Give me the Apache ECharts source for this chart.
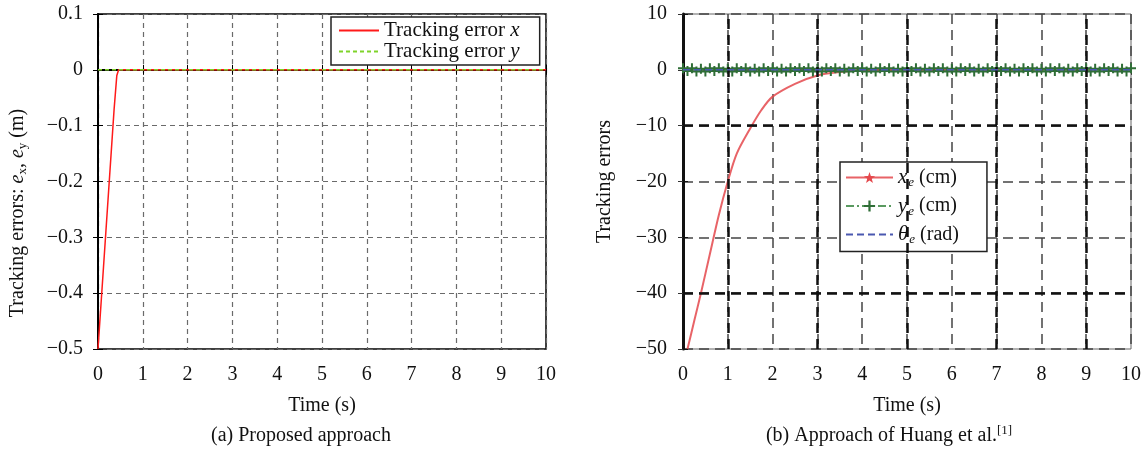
<!DOCTYPE html>
<html>
<head>
<meta charset="utf-8">
<script src="https://cdn.jsdelivr.net/npm/echarts@6/dist/echarts.min.js"></script>
<style>
html,body{margin:0;padding:0;background:#fff;}
#c{width:1147px;height:455px;}
</style>
</head>
<body>
<div id="c"></div>
<script>
// ---- data: chart (a) ----
const timeA = [0, 0.36, 0.42, 0.46, 10];
const errXA = [-0.5, -0.07, -0.01, 0, 0];
const timeAy = [0, 10];
const errYA = [0, 0];
const yTicksA = [0.1, 0, -0.1, -0.2, -0.3, -0.4, -0.5];

// ---- data: chart (b) ----
const timeBx = [0.1, 0.25, 0.4, 0.6, 0.8, 1.0, 1.2, 1.5, 1.75, 2.0, 2.5, 3.0, 3.5, 4.0, 5.0, 10];
const errXB = [-50, -45, -40, -33, -26, -20, -15, -10.5, -7.2, -4.8, -2.5, -1.0, -0.4, -0.1, 0, 0];
const timeBy = [0,0.1,0.2,0.3,0.4,0.5,0.6,0.7,0.8,0.9,1,1.1,1.2,1.3,1.4,1.5,1.6,1.7,1.8,1.9,2,2.1,2.2,2.3,2.4,2.5,2.6,2.7,2.8,2.9,3,3.1,3.2,3.3,3.4,3.5,3.6,3.7,3.8,3.9,4,4.1,4.2,4.3,4.4,4.5,4.6,4.7,4.8,4.9,5,5.1,5.2,5.3,5.4,5.5,5.6,5.7,5.8,5.9,6,6.1,6.2,6.3,6.4,6.5,6.6,6.7,6.8,6.9,7,7.1,7.2,7.3,7.4,7.5,7.6,7.7,7.8,7.9,8,8.1,8.2,8.3,8.4,8.5,8.6,8.7,8.8,8.9,9,9.1,9.2,9.3,9.4,9.5,9.6,9.7,9.8,9.9,10];
const errYB = [0.3,-0.2,0.3,-0.3,0.2,-0.3,0.3,-0.2,0.3,-0.3,0.2,-0.3,0.3,-0.2,0.3,-0.3,0.2,-0.3,0.3,-0.2,0.3,-0.3,0.2,-0.3,0.3,-0.2,0.3,-0.2,0.3,-0.3,0.2,-0.3,0.3,-0.2,0.3,-0.3,0.2,-0.3,0.3,-0.2,0.3,-0.3,0.2,-0.3,0.3,-0.2,0.3,-0.3,0.2,-0.3,0.3,-0.2,0.3,-0.3,0.2,-0.3,0.3,-0.2,0.3,-0.3,0.2,-0.3,0.3,-0.2,0.3,-0.3,0.2,-0.3,0.3,-0.2,0.3,-0.2,0.3,-0.3,0.2,-0.3,0.3,-0.2,0.3,-0.3,0.2,-0.3,0.3,-0.2,0.3,-0.3,0.2,-0.3,0.3,-0.2,0.3,-0.3,0.2,-0.3,0.3,-0.2,0.3,-0.3,0.2,-0.3,0.3];
const timeBt = [0, 10];
const errTB = [0, 0];
const thickX = [1, 3, 5, 7, 9];
const thickY = [-10, -40];
const yTicksB = [10, 0, -10, -20, -30, -40, -50];

const FONT = 'Liberation Serif';
const zip = (a, b) => a.map((v, i) => [v, b[i]]);
const minus = v => String(v).replace('-', '\u2212');

const chart = echarts.init(document.getElementById('c'));
const lbl = {fontFamily: FONT, fontSize: 20, color: '#111'};
const plusPath = 'path://M4,0H6V4H10V6H6V10H4V6H0V4H4Z';
const starPath = 'path://M5,0L6.2,3.6L10,3.8L7,6.1L8.1,10L5,7.6L1.9,10L3,6.1L0,3.8L3.8,3.6Z';

chart.setOption({
  animation: false,
  grid: [
    {left: 98, top: 14, width: 448, height: 335, show: true, borderColor: '#000', borderWidth: 1.5},
    {left: 683, top: 14, width: 448, height: 335, show: true, borderColor: '#666', borderWidth: 1}
  ],
  xAxis: [
    {gridIndex: 0, type: 'value', min: 0, max: 10, interval: 1,
     name: 'Time (s)', nameLocation: 'middle', nameGap: 47, nameTextStyle: lbl,
     axisLine: {lineStyle: {color: '#000', width: 2}}, axisTick: {inside: true, length: 5, lineStyle: {color: '#000'}},
     axisLabel: Object.assign({margin: 16}, lbl),
     splitLine: {show: true, lineStyle: {color: '#6a6a6a', type: [5, 4], width: 1.2}}},
    {gridIndex: 0, type: 'value', position: 'top', min: 0, max: 10, interval: 1,
     axisLine: {show: false}, axisTick: {inside: true, length: 5, lineStyle: {color: '#000'}}, axisLabel: {show: false}, splitLine: {show: false}},
    {gridIndex: 1, type: 'value', min: 0, max: 10, interval: 1,
     name: 'Time (s)', nameLocation: 'middle', nameGap: 47, nameTextStyle: lbl,
     axisLine: {lineStyle: {color: '#555', width: 1.5}}, axisTick: {inside: true, length: 5, lineStyle: {color: '#333'}},
     axisLabel: Object.assign({margin: 16}, lbl),
     splitLine: {show: true, lineStyle: {color: '#444', type: [10, 6], width: 1.5}}},
    {gridIndex: 1, type: 'value', position: 'top', min: 0, max: 10, interval: 1,
     axisLine: {show: false}, axisTick: {inside: true, length: 5, lineStyle: {color: '#333'}}, axisLabel: {show: false}, splitLine: {show: false}}
  ],
  yAxis: [
    {gridIndex: 0, type: 'value', min: -0.5, max: 0.1, interval: 0.1,
     axisLine: {show: true, lineStyle: {color: '#000', width: 2}}, axisTick: {show: true, inside: true, length: 5, lineStyle: {color: '#000'}},
     axisLabel: Object.assign({margin: 15, formatter: v => minus(+v.toFixed(1))}, lbl),
     splitLine: {show: true, lineStyle: {color: '#6a6a6a', type: [5, 4], width: 1.2}}},
    {gridIndex: 0, type: 'value', position: 'right', min: -0.5, max: 0.1, interval: 0.1,
     axisLine: {show: false}, axisTick: {show: true, inside: true, length: 5, lineStyle: {color: '#000'}}, axisLabel: {show: false}, splitLine: {show: false}},
    {gridIndex: 1, type: 'value', min: -50, max: 10, interval: 10,
     name: 'Tracking errors', nameLocation: 'middle', nameGap: 68, nameTextStyle: lbl,
     axisLine: {show: true, lineStyle: {color: '#111', width: 3}}, axisTick: {show: true, inside: true, length: 5, lineStyle: {color: '#111'}},
     axisLabel: Object.assign({margin: 16, formatter: v => minus(v)}, lbl),
     splitLine: {show: true, lineStyle: {color: '#444', type: [10, 6], width: 1.5}}},
    {gridIndex: 1, type: 'value', position: 'right', min: -50, max: 10, interval: 10,
     axisLine: {show: false}, axisTick: {show: true, inside: true, length: 5, lineStyle: {color: '#333'}}, axisLabel: {show: false}, splitLine: {show: false}}
  ],
  legend: [
    {orient: 'vertical', left: 331, top: 17, padding: [3, 20, 3, 7], itemGap: 0,
     backgroundColor: '#fff', borderColor: '#222', borderWidth: 1.5, itemWidth: 40, itemHeight: 20,
     itemStyle: {opacity: 0},
     data: ['Tracking error x', 'Tracking error y'],
     formatter: n => n.replace(/ ([xy])$/, ' {i|$1}'),
     textStyle: {fontFamily: FONT, fontSize: 21, lineHeight: 20, color: '#111', rich: {i: {fontFamily: FONT, fontSize: 21, lineHeight: 20, fontStyle: 'italic'}}}},
    {orient: 'vertical', left: 840, top: 162, padding: [5, 28, 5, 5], itemGap: 6,
     backgroundColor: '#fff', borderColor: '#222', borderWidth: 1.5, itemWidth: 47, itemHeight: 14,
     data: ['xe', 'ye', {name: 'thetae', itemStyle: {opacity: 0}}],
     formatter: n => ({xe: '{i|x}{s|e}{t| (cm)}', ye: '{i|y}{s|e}{t| (cm)}', thetae: '{i|\u03b8}{s|e}{t| (rad)}'})[n],
     textStyle: {fontFamily: FONT, fontSize: 20, color: '#111', rich: {
       i: {fontFamily: FONT, fontSize: 21, fontStyle: 'italic', lineHeight: 24, verticalAlign: 'middle'},
       s: {fontFamily: FONT, fontSize: 13, fontStyle: 'italic', lineHeight: 14, verticalAlign: 'bottom', padding: [0, 0, 0, 1]},
       t: {fontFamily: FONT, fontSize: 20, lineHeight: 24, verticalAlign: 'middle'}}}}
  ],
  graphic: [
    {type: 'text', x: 18, y: 213, rotation: Math.PI / 2,
     style: {text: 'Tracking errors: {i|e}{s|x}, {i|e}{s|y} (m)', fontFamily: FONT, fontSize: 20, fill: '#111', align: 'center', verticalAlign: 'middle',
       rich: {i: {fontFamily: FONT, fontSize: 20, fontStyle: 'italic'}, s: {fontFamily: FONT, fontSize: 13, padding: [9, 0, 0, 0]}}}},
    {type: 'text', x: 301, y: 436, style: {text: '(a) Proposed approach', fontFamily: FONT, fontSize: 20, fill: '#111', align: 'center', verticalAlign: 'middle'}},
    {type: 'text', x: 889, y: 436, style: {text: '(b) Approach of Huang et al.{sup|[1]}', fontFamily: FONT, fontSize: 20, fill: '#111', align: 'center', verticalAlign: 'middle',
       rich: {sup: {fontFamily: FONT, fontSize: 13, padding: [0, 0, 10, 0]}}}}
  ],
  series: [
    {name: 'Tracking error y', type: 'line', xAxisIndex: 0, yAxisIndex: 0, data: zip(timeAy, errYA),
     symbol: 'none', lineStyle: {color: '#7fd32a', width: 1.5, type: [4, 3]}, itemStyle: {color: '#7fd32a'}, z: 3},
    {name: 'Tracking error x', type: 'line', xAxisIndex: 0, yAxisIndex: 0, data: zip(timeA, errXA),
     symbol: 'none', lineStyle: {color: '#ff1a1a', width: 1.5}, itemStyle: {color: '#ff1a1a'}, z: 2},
    {name: 'ye', type: 'line', xAxisIndex: 2, yAxisIndex: 2, data: zip(timeBy, errYB),
     symbol: plusPath, symbolSize: 10, lineStyle: {color: '#5a9a60', width: 1.5, type: [8, 3, 2, 3]}, itemStyle: {color: '#2f6e37'}, z: 4},
    {name: 'thetae', type: 'line', xAxisIndex: 2, yAxisIndex: 2, data: zip(timeBt, errTB),
     symbol: 'none', lineStyle: {color: '#4a58b0', width: 1.5, type: [7, 4]}, itemStyle: {color: '#4a58b0'}, z: 5,
     markLine: {silent: true, symbol: 'none', label: {show: false},
       lineStyle: {color: '#111', width: 2.5, type: [10, 6]},
       data: thickX.map(v => ({xAxis: v})).concat(thickY.map(v => ({yAxis: v})))}},
    {name: 'xe', type: 'line', xAxisIndex: 2, yAxisIndex: 2, data: zip(timeBx, errXB), smooth: 0.3,
     symbol: starPath, symbolSize: 8, showSymbol: false, lineStyle: {color: '#e4484c', width: 2, opacity: 0.85}, itemStyle: {color: '#e4484c'}, z: 3}
  ]
});
</script>
</body>
</html>
